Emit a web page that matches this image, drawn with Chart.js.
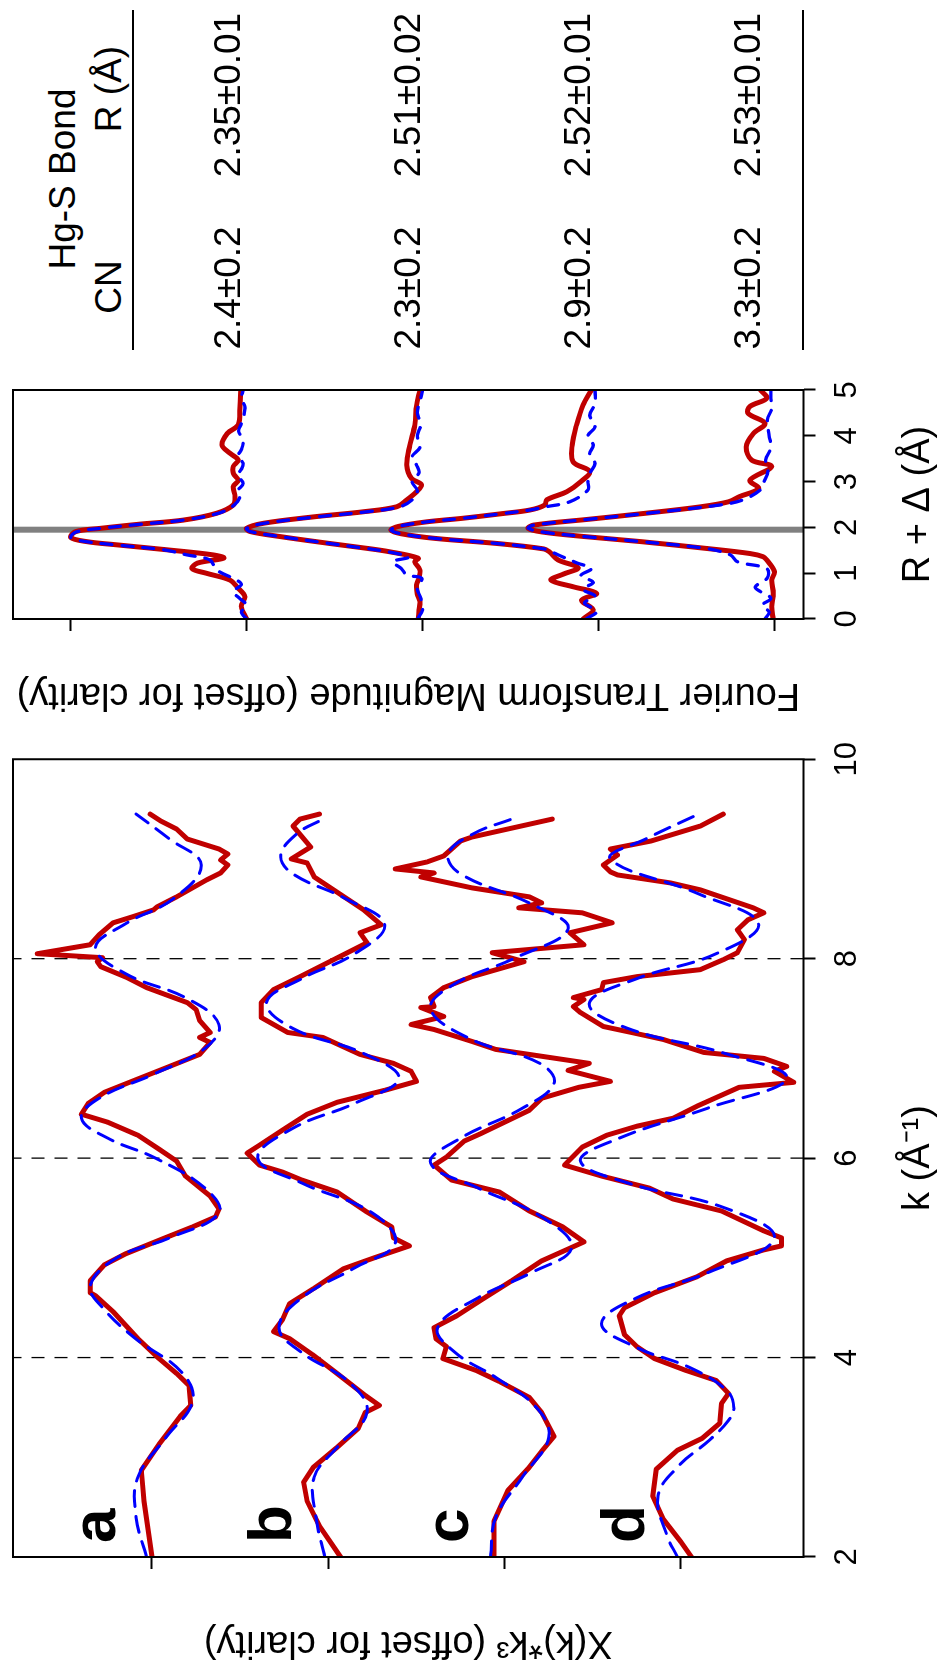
<!DOCTYPE html>
<html>
<head>
<meta charset="utf-8">
<script src="https://cdn.jsdelivr.net/npm/chart.js@4.4.1/dist/chart.umd.min.js"></script>
<style>
  html, body { margin: 0; padding: 0; background: #fff; }
  body { width: 942px; height: 1669px; overflow: hidden; position: relative; }
  /* the figure is laid out landscape and turned a quarter turn */
  #figure { position: absolute; left: 0; top: 0; width: 1669px; height: 942px;
            transform-origin: 0 0; transform: translateY(1669px) rotate(-90deg); }
  #figure canvas { position: absolute; top: 0; }
  .cell { position: absolute; font: 37px "Liberation Sans", Arial, sans-serif; line-height: 37px;
          white-space: nowrap; transform: translateX(-50%); color: #000; }
  .rule { position: absolute; left: 1319px; width: 340px; height: 2px; background: #000; }
</style>
</head>
<body>
<div id="figure">
  <canvas id="kChart" width="940" height="942" style="left:0"></canvas>
  <canvas id="ftChart" width="390" height="942" style="left:940px"></canvas>
</div>
<script>
// ── k-space traces: [k, chi(k)*k^3] relative to each trace baseline ─────────
const kExpA = [[2.0,0.0],[2.56,0.045],[2.87,0.06],[3.13,-0.04],[3.41,-0.16],[3.52,-0.22],[3.72,-0.21],[3.84,-0.14],[3.99,-0.04],[4.19,0.08],[4.46,0.22],[4.62,0.32],[4.65,0.35],[4.77,0.35],[4.93,0.27],[5.04,0.15],[5.19,-0.06],[5.31,-0.23],[5.41,-0.36],[5.49,-0.38],[5.62,-0.33],[5.82,-0.19],[5.97,-0.14],[6.09,-0.04],[6.23,0.08],[6.36,0.25],[6.44,0.40],[6.55,0.36],[6.66,0.27],[6.78,0.10],[6.92,-0.10],[7.04,-0.27],[7.16,-0.33],[7.21,-0.27],[7.26,-0.33],[7.38,-0.27],[7.49,-0.25],[7.56,-0.20],[7.71,0.03],[7.81,0.14],[7.92,0.29],[7.97,0.31],[8.01,0.28],[8.05,0.65],[8.14,0.35],[8.24,0.30],[8.36,0.22],[8.42,0.11],[8.49,-0.01],[8.52,-0.03],[8.62,-0.14],[8.79,-0.31],[8.86,-0.39],[8.94,-0.43],[8.99,-0.39],[9.05,-0.43],[9.1,-0.38],[9.2,-0.20],[9.3,-0.14],[9.38,-0.05],[9.45,0.01]];
const kFitA = [[2.0,0.03],[2.4,0.09],[2.8,0.08],[3.2,-0.08],[3.56,-0.23],[3.85,-0.17],[4.2,0.10],[4.5,0.28],[4.72,0.35],[5.0,0.20],[5.2,-0.10],[5.45,-0.38],[5.7,-0.30],[6.0,-0.02],[6.2,0.25],[6.4,0.40],[6.6,0.30],[6.85,-0.02],[7.1,-0.30],[7.34,-0.38],[7.6,-0.20],[7.85,0.15],[8.11,0.32],[8.35,0.15],[8.6,-0.12],[8.94,-0.28],[9.2,-0.10],[9.45,0.09]];

const kExpB = [[2.0,-0.07],[2.31,0.05],[2.56,0.12],[2.75,0.14],[2.9,0.085],[3.1,-0.05],[3.29,-0.17],[3.45,-0.21],[3.52,-0.29],[3.62,-0.21],[3.84,-0.05],[4.03,0.09],[4.19,0.22],[4.26,0.31],[4.38,0.26],[4.54,0.22],[4.69,0.085],[4.89,-0.085],[5.0,-0.26],[5.12,-0.46],[5.2,-0.37],[5.31,-0.36],[5.47,-0.21],[5.66,-0.05],[5.78,0.15],[5.86,0.26],[5.93,0.39],[6.05,0.46],[6.13,0.39],[6.28,0.26],[6.44,0.12],[6.56,-0.05],[6.68,-0.32],[6.77,-0.50],[6.87,-0.47],[6.95,-0.37],[7.04,-0.18],[7.21,0.03],[7.26,0.23],[7.41,0.38],[7.56,0.38],[7.69,0.31],[7.82,0.16],[7.99,-0.03],[8.16,-0.22],[8.26,-0.18],[8.34,-0.30],[8.49,-0.20],[8.69,-0.03],[8.82,0.08],[8.96,0.12],[9.0,0.21],[9.12,0.10],[9.33,0.20],[9.4,0.16],[9.45,0.05]];
const kFitB = [[2.0,0.02],[2.4,0.07],[2.8,0.08],[3.1,-0.05],[3.45,-0.22],[3.75,-0.12],[4.05,0.15],[4.3,0.28],[4.6,0.15],[4.9,-0.15],[5.15,-0.38],[5.45,-0.25],[5.75,0.15],[6.0,0.40],[6.3,0.20],[6.55,-0.15],[6.8,-0.40],[7.05,-0.20],[7.3,0.20],[7.56,0.35],[7.8,0.15],[8.05,-0.15],[8.34,-0.32],[8.6,-0.10],[8.85,0.20],[9.03,0.27],[9.25,0.18],[9.4,0.03]];

const kExpC = [[2.0,0.06],[2.36,0.06],[2.67,-0.02],[2.9,-0.14],[3.06,-0.21],[3.21,-0.28],[3.45,-0.21],[3.6,-0.14],[3.76,0.03],[3.87,0.16],[3.99,0.35],[4.11,0.33],[4.19,0.39],[4.3,0.40],[4.42,0.27],[4.58,0.13],[4.77,-0.04],[4.97,-0.21],[5.08,-0.35],[5.16,-0.45],[5.31,-0.33],[5.47,-0.14],[5.66,0.03],[5.78,0.30],[5.93,0.40],[6.01,0.33],[6.17,0.23],[6.25,0.13],[6.48,-0.14],[6.6,-0.21],[6.71,-0.42],[6.77,-0.60],[6.88,-0.36],[6.95,-0.48],[7.09,0.05],[7.17,0.185],[7.29,0.40],[7.34,0.53],[7.42,0.345],[7.51,0.475],[7.52,0.40],[7.61,0.42],[7.71,0.345],[7.82,0.185],[7.97,-0.11],[8.06,0.07],[8.14,-0.45],[8.26,-0.37],[8.36,-0.61],[8.46,-0.44],[8.51,-0.08],[8.56,-0.21],[8.62,-0.14],[8.71,0.185],[8.82,0.475],[8.86,0.40],[8.9,0.62],[8.97,0.44],[9.03,0.345],[9.18,0.25],[9.22,0.185],[9.4,-0.27]];
const kFitC = [[2.0,0.08],[2.4,0.05],[2.8,-0.10],[3.2,-0.25],[3.5,-0.18],[3.8,0.05],[4.05,0.28],[4.3,0.38],[4.6,0.15],[4.85,-0.15],[5.1,-0.38],[5.4,-0.22],[5.7,0.15],[5.95,0.42],[6.2,0.25],[6.5,-0.10],[6.75,-0.28],[6.95,-0.20],[7.2,0.20],[7.5,0.42],[7.75,0.28],[8.0,-0.05],[8.3,-0.36],[8.55,-0.15],[8.85,0.25],[9.05,0.32],[9.25,0.18],[9.4,-0.04]];

const kExpD = [[2.0,-0.06],[2.15,0.0],[2.38,0.10],[2.61,0.16],[2.88,0.14],[3.07,0.02],[3.19,-0.12],[3.34,-0.22],[3.54,-0.23],[3.64,-0.27],[3.77,-0.20],[3.87,-0.03],[3.99,0.15],[4.11,0.25],[4.23,0.32],[4.42,0.35],[4.5,0.32],[4.65,0.15],[4.81,-0.09],[4.97,-0.26],[5.08,-0.47],[5.12,-0.57],[5.2,-0.57],[5.27,-0.47],[5.47,-0.23],[5.59,0.045],[5.7,0.18],[5.82,0.45],[5.93,0.66],[6.11,0.56],[6.23,0.42],[6.32,0.25],[6.4,0.045],[6.52,-0.09],[6.71,-0.33],[6.76,-0.64],[6.87,-0.53],[6.92,-0.60],[7.0,-0.47],[7.06,-0.13],[7.19,0.10],[7.26,0.28],[7.32,0.44],[7.46,0.57],[7.52,0.61],[7.59,0.55],[7.61,0.61],[7.69,0.45],[7.76,0.44],[7.82,0.25],[7.89,-0.11],[7.99,-0.24],[8.06,-0.32],[8.19,-0.36],[8.29,-0.32],[8.39,-0.38],[8.46,-0.47],[8.51,-0.41],[8.69,-0.11],[8.76,0.06],[8.84,0.36],[8.87,0.40],[8.94,0.44],[9.04,0.36],[9.1,0.40],[9.18,0.17],[9.33,-0.11],[9.45,-0.24]];
const kFitD = [[2.0,0.02],[2.22,0.08],[2.61,0.13],[2.91,0.015],[3.17,-0.16],[3.37,-0.27],[3.5,-0.30],[3.67,-0.26],[3.9,-0.05],[4.1,0.25],[4.34,0.45],[4.6,0.25],[4.85,-0.15],[5.2,-0.53],[5.5,-0.25],[5.75,0.30],[5.97,0.57],[6.2,0.35],[6.5,-0.15],[6.8,-0.60],[7.05,-0.25],[7.3,0.30],[7.55,0.52],[7.8,0.25],[8.05,-0.20],[8.35,-0.44],[8.65,-0.10],[9.0,0.40],[9.2,0.20],[9.45,-0.10]];

// ── Fourier transform traces: [R + delta, magnitude] relative to baseline ───
const ftExpA = [[0,0],[0.27,0.03],[0.49,0.01],[0.68,0.05],[0.85,0.095],[1.0,0.23],[1.1,0.31],[1.22,0.28],[1.33,0.13],[1.4,0.19],[1.51,0.45],[1.62,0.74],[1.69,0.91],[1.78,1.0],[1.91,0.97],[1.98,0.83],[2.07,0.61],[2.16,0.36],[2.31,0.17],[2.49,0.076],[2.67,0.066],[2.89,0.076],[3.03,0.048],[3.18,0.076],[3.33,0.076],[3.47,0.048],[3.62,0.095],[3.8,0.14],[4.05,0.11],[4.24,0.048],[4.64,0.038],[5.0,0.034]];
const ftFitA = [[0,0],[0.15,0.03],[0.3,0.0],[0.45,0.04],[0.6,0.077],[0.75,0.03],[0.85,0.057],[1.07,0.17],[1.29,0.21],[1.4,0.34],[1.51,0.47],[1.62,0.75],[1.7,0.93],[1.78,1.0],[1.9,0.97],[1.98,0.83],[2.07,0.60],[2.16,0.36],[2.31,0.16],[2.49,0.07],[2.67,0.038],[2.8,0.05],[2.96,0.02],[3.14,0.05],[3.27,0.03],[3.4,0.02],[3.55,0.05],[3.7,0.03],[3.9,0.02],[4.1,0.045],[4.27,0.03],[4.45,0.015],[4.64,0.01],[4.8,0.03],[5.0,0.02]];

const ftExpB = [[0,0.025],[0.2,0.02],[0.38,0.015],[0.55,0.03],[0.74,0.034],[0.9,0.02],[1.07,0.015],[1.25,0.044],[1.33,0.025],[1.47,0.19],[1.56,0.35],[1.65,0.53],[1.8,0.81],[1.91,0.98],[1.98,1.0],[2.09,0.905],[2.23,0.62],[2.34,0.34],[2.45,0.148],[2.6,0.09],[2.78,0.034],[2.93,0.006],[3.07,0.063],[3.36,0.09],[3.8,0.072],[4.24,0.044],[4.67,0.034],[5.0,0.015]];
const ftFitB = [[0,0.03],[0.2,0.0],[0.45,0.01],[0.67,0.03],[0.89,0.005],[0.96,0.09],[1.1,0.12],[1.25,0.17],[1.35,0.08],[1.47,0.2],[1.56,0.36],[1.65,0.53],[1.8,0.81],[1.91,0.98],[1.98,1.0],[2.09,0.9],[2.23,0.6],[2.34,0.32],[2.45,0.13],[2.6,0.06],[2.8,0.03],[3.0,0.06],[3.2,0.02],[3.36,0.034],[3.54,0.06],[3.75,0.015],[4.0,0.03],[4.25,0.01],[4.5,0.03],[4.75,0.015],[5.0,0.0]];

const ftExpC = [[0,0.088],[0.2,0.03],[0.41,0.097],[0.56,0.011],[0.7,0.14],[0.85,0.27],[0.98,0.2],[1.12,0.116],[1.29,0.23],[1.47,0.28],[1.53,0.31],[1.65,0.58],[1.76,0.93],[1.86,1.12],[1.94,1.18],[2.02,1.14],[2.12,0.98],[2.2,0.77],[2.3,0.55],[2.38,0.39],[2.49,0.305],[2.6,0.295],[2.78,0.18],[3.0,0.1],[3.22,0.05],[3.43,0.144],[3.8,0.15],[4.24,0.125],[4.67,0.088],[5.0,0.04]];
const ftFitC = [[0,0.07],[0.17,0.01],[0.35,0.08],[0.5,0.02],[0.65,0.09],[0.8,0.03],[0.95,0.1],[1.1,0.04],[1.22,0.12],[1.35,0.2],[1.47,0.27],[1.53,0.31],[1.65,0.58],[1.76,0.93],[1.86,1.12],[1.94,1.18],[2.02,1.14],[2.12,0.98],[2.2,0.77],[2.3,0.55],[2.38,0.39],[2.45,0.3],[2.56,0.163],[2.82,0.06],[3.0,0.06],[3.18,0.05],[3.4,0.02],[3.6,0.05],[3.8,0.03],[4.0,0.06],[4.2,0.02],[4.45,0.05],[4.7,0.02],[5.0,0.02]];

const ftExpD = [[0,0.007],[0.27,0.016],[0.56,0.007],[0.85,0.016],[1.03,0.0],[1.29,0.044],[1.36,0.064],[1.43,0.14],[1.54,0.385],[1.69,0.76],[1.8,1.08],[1.9,1.32],[1.98,1.40],[2.05,1.37],[2.18,1.05],[2.31,0.73],[2.45,0.42],[2.56,0.26],[2.67,0.2],[2.85,0.09],[3.03,0.14],[3.33,0.016],[3.47,0.13],[3.76,0.16],[4.05,0.12],[4.27,0.054],[4.49,0.15],[4.64,0.14],[4.82,0.044],[5.0,0.08]];
const ftFitD = [[0,0.054],[0.15,0.03],[0.3,0.07],[0.45,0.02],[0.6,0.08],[0.7,0.11],[0.9,0.04],[1.1,0.044],[1.25,0.21],[1.4,0.25],[1.54,0.39],[1.69,0.76],[1.8,1.08],[1.9,1.32],[1.98,1.40],[2.05,1.37],[2.18,1.05],[2.31,0.72],[2.49,0.31],[2.6,0.18],[2.82,0.08],[2.96,0.064],[3.22,0.037],[3.47,0.05],[3.75,0.02],[4.0,0.03],[4.35,0.04],[4.6,0.015],[4.82,0.02],[5.0,0.02]];

// ── Offsets, ticks, guides ──────────────────────────────────────────────────
const traceLetters = ['a', 'b', 'c', 'd'];
const traceOffsets = [3, 2, 1, 0];
const kTicks       = [2, 4, 6, 8, 10];
const kGuides      = [4, 6, 8];
const kOffsetTicks = [0, 1, 2, 3];
const rTicks       = [0, 1, 2, 3, 4, 5];
const ftOffsetTicks = [0, 1, 2, 3, 4];
const ftGuide      = 1.95;

// ── Fit table ───────────────────────────────────────────────────────────────
const cnValues = ['2.4±0.2', '2.3±0.2', '2.9±0.2', '3.3±0.2'];
const rValues  = ['2.35±0.01', '2.51±0.02', '2.52±0.01', '2.53±0.01'];

// ── Styling / layout ────────────────────────────────────────────────────────
const RED  = '#c00000';
const BLUE = '#0000ff';
const K_MIN = -0.695, K_MAX = 3.788;
const FT_MIN = -0.165, FT_MAX = 4.328;
const LETTER_K = 2.14, LETTER_LIFT = 0.21;

Chart.defaults.font.family = '"Liberation Sans", Arial, Helvetica, sans-serif';
Chart.defaults.color = '#000';

function toPts(pairs, off) {
  return pairs.map(([x, y]) => ({ x, y: y + off }));
}

function expSet(pairs, off, width, tension) {
  return { data: toPts(pairs, off), borderColor: RED, borderWidth: width, tension,
           borderJoinStyle: 'round', borderCapStyle: 'round', pointRadius: 0, order: 2 };
}
function fitSet(pairs, off, width, dash, tension) {
  return { data: toPts(pairs, off), borderColor: BLUE, borderWidth: width, borderDash: dash,
           borderCapStyle: 'round', tension, pointRadius: 0, order: 1 };
}
function guideSet(x, lo, hi, color, width, dash) {
  return { data: [{ x, y: lo }, { x, y: hi }], borderColor: color, borderWidth: width,
           borderDash: dash, pointRadius: 0, order: 3 };
}

const tickGrid = { drawOnChartArea: false, drawTicks: true, tickLength: 12,
                   tickColor: '#000', tickWidth: 2, color: '#000' };

function axisX(min, max, ticks, title, height) {
  return {
    type: 'linear', position: 'bottom', min, max,
    afterBuildTicks: s => { s.ticks = ticks.map(v => ({ value: v })); },
    afterFit: s => { s.height = height; },
    grid: tickGrid,
    border: { display: false },
    ticks: { color: '#000', font: { size: 31 }, padding: 13, maxRotation: 0, minRotation: 0, autoSkip: false },
    title: { display: true, text: title, color: '#000', font: { size: 38 }, padding: { top: 0, bottom: 1 } }
  };
}
function axisY(min, max, ticks, title, width, titlePad) {
  return {
    type: 'linear', position: 'left', min, max,
    afterBuildTicks: s => { s.ticks = ticks.map(v => ({ value: v })); },
    afterFit: s => { s.width = width; },
    grid: tickGrid,
    border: { display: false },
    ticks: { display: false },
    title: { display: true, text: title, color: '#000', font: { size: 38 }, padding: { top: titlePad, bottom: 0 } }
  };
}

// box round the plotting region
const framePlugin = {
  id: 'frame',
  afterDraw(chart) {
    const { ctx, chartArea: a } = chart;
    ctx.save();
    ctx.strokeStyle = '#000';
    ctx.lineWidth = 2;
    ctx.strokeRect(a.left, a.top, a.right - a.left, a.bottom - a.top);
    ctx.restore();
  }
};

// bold sample letters next to each k-space trace
const letterPlugin = {
  id: 'letters',
  afterDatasetsDraw(chart) {
    const { ctx, scales: { x, y } } = chart;
    ctx.save();
    ctx.font = 'bold 62px "Liberation Sans", Arial, sans-serif';
    ctx.fillStyle = '#000';
    ctx.textAlign = 'left';
    ctx.textBaseline = 'alphabetic';
    traceLetters.forEach((t, i) => {
      ctx.fillText(t, x.getPixelForValue(LETTER_K), y.getPixelForValue(traceOffsets[i] + LETTER_LIFT));
    });
    ctx.restore();
  }
};

const baseOpts = {
  responsive: false, animation: false, devicePixelRatio: 1, events: [],
  plugins: { legend: { display: false }, tooltip: { enabled: false } }
};

// ── k-space panel ───────────────────────────────────────────────────────────
const kSets = [];
[kExpA, kExpB, kExpC, kExpD].forEach((p, i) => kSets.push(expSet(p, traceOffsets[i], 5, 0)));
[kFitA, kFitB, kFitC, kFitD].forEach((p, i) => kSets.push(fitSet(p, traceOffsets[i], 3, [16, 10], 0.4)));
kGuides.forEach(k => kSets.push(guideSet(k, K_MIN, K_MAX, '#000', 1.3, [13, 10])));

new Chart(document.getElementById('kChart'), {
  type: 'line',
  data: { datasets: kSets },
  options: Object.assign({}, baseOpts, {
    layout: { padding: { top: 13, right: 24, left: 0, bottom: 0 } },
    scales: {
      x: axisX(2, 10, kTicks, 'k (Å⁻¹)', 138.5),
      y: axisY(K_MIN, K_MAX, kOffsetTicks, 'X(k)*k³ (offset for clarity)', 112, 4)
    }
  }),
  plugins: [framePlugin, letterPlugin]
});

// ── Fourier transform panel ─────────────────────────────────────────────────
const ftSets = [];
[ftExpA, ftExpB, ftExpC, ftExpD].forEach((p, i) => ftSets.push(expSet(p, traceOffsets[i], 5, 0.35)));
[ftFitA, ftFitB, ftFitC, ftFitD].forEach((p, i) => ftSets.push(fitSet(p, traceOffsets[i], 3.3, [11, 10], 0.35)));
ftSets.push(guideSet(ftGuide, FT_MIN, FT_MAX, '#808080', 6, []));

new Chart(document.getElementById('ftChart'), {
  type: 'line',
  data: { datasets: ftSets },
  options: Object.assign({}, baseOpts, {
    layout: { padding: { top: 13, right: 51, left: 0, bottom: 0 } },
    scales: {
      x: axisX(0, 5, rTicks, 'R + Δ (Å)', 138.5),
      y: axisY(FT_MIN, FT_MAX, ftOffsetTicks, 'Fourier Transform Magnitude (offset for clarity)', 110, 12)
    }
  }),
  plugins: [framePlugin]
});

// ── Fit table (HTML text) ───────────────────────────────────────────────────
const figure = document.getElementById('figure');
function addCell(text, cx, baseline) {
  const el = document.createElement('div');
  el.className = 'cell';
  el.textContent = text;
  el.style.left = cx + 'px';
  el.style.top = (baseline - 31.3) + 'px';
  figure.appendChild(el);
}
function addRule(y) {
  const el = document.createElement('div');
  el.className = 'rule';
  el.style.top = (y - 1) + 'px';
  figure.appendChild(el);
}
const rowBaselines = [240, 420, 590, 760];
addCell('Hg-S Bond', 1490, 75);
addCell('CN', 1382, 121.7);
addCell('R (Å)', 1580, 121.7);
addRule(133.3);
cnValues.forEach((v, i) => addCell(v, 1381, rowBaselines[i]));
rValues.forEach((v, i) => addCell(v, 1574, rowBaselines[i]));
addRule(802.8);
</script>
</body>
</html>
